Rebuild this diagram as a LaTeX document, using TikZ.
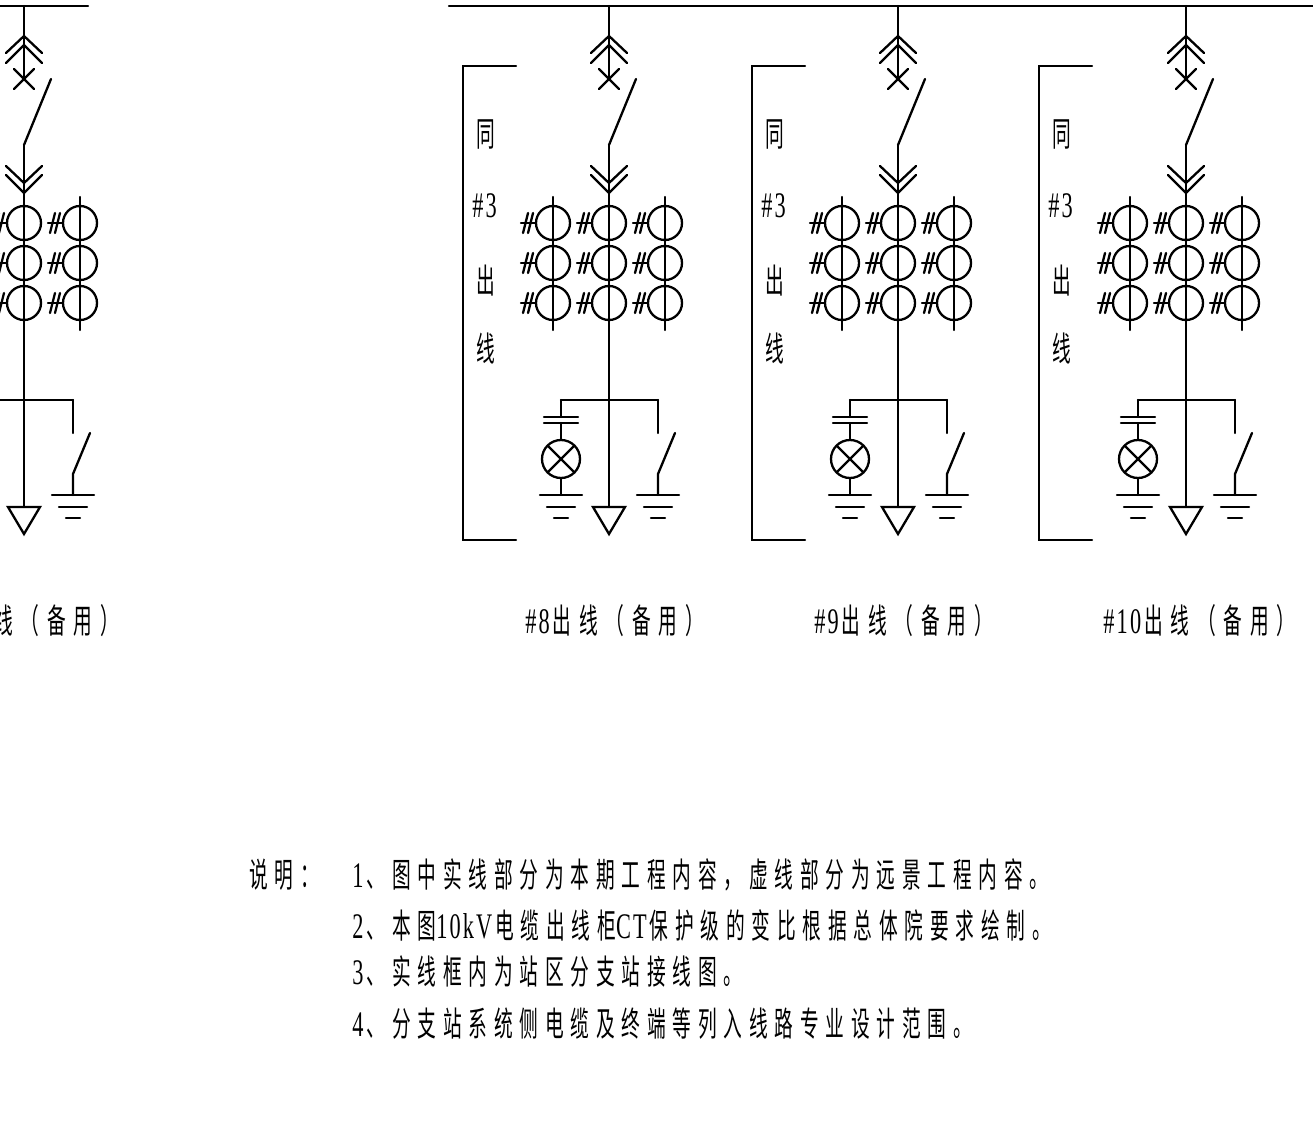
\documentclass[tikz,border=0pt]{standalone}
\usepackage{fontspec}
\newfontfamily\cjk[FakeStretch=0.55,LetterSpace=20]{Noto Sans CJK SC}
\newfontfamily\cjkcap[FakeStretch=0.55,LetterSpace=23]{Noto Sans CJK SC}
\newfontfamily\cjktag[FakeStretch=0.55]{Noto Sans CJK SC}
\newfontfamily\latn[FakeStretch=0.62,LetterSpace=6]{Liberation Serif}
\newcommand{\lat}[1]{{\fontsize{18}{18}\selectfont\latn #1}\kern1.5pt}
\tikzset{
  wire/.style={line width=1.15pt,line cap=round},
  ctcoil/.style={draw,circle,line width=1.15pt,minimum size=17pt,inner sep=0pt,outer sep=0pt},
  lampbox/.style={draw,circle,line width=1.15pt,minimum size=19pt,inner sep=0pt,outer sep=0pt},
  tag/.style={inner sep=0pt,font=\fontsize{17}{17}\selectfont\cjktag},
  caption/.style={inner sep=0pt,anchor=west,font=\fontsize{17}{17}\selectfont\cjkcap},
  notetext/.style={inner sep=0pt,anchor=west,font=\fontsize{17}{17}\selectfont\cjk},
}
\begin{document}
\begin{tikzpicture}[x=0.5pt,y=-0.5pt]
  \useasboundingbox (0,0) rectangle (1313,1124);
  % bus bars
  \draw[wire] (0,6)--(88,6);
  \draw[wire] (449,6)--(1313,6);
  % the four feeders
  \foreach \bx in {24,609,898,1186} {
   \begin{scope}[xshift=\bx*0.5pt]
    \coordinate (tap) at (0,6);
    \coordinate (breaker) at (0,79);
    \coordinate (bladeup) at (0,145);
    \coordinate (foot) at (0,507);
    \coordinate (tee) at (0,400);
    \coordinate (teeL) at (-48,400);
    \coordinate (teeR) at (49,400);
    \draw[wire] (tap)--(breaker);
    \draw[wire] (bladeup)--(foot);
    \draw[wire] (bladeup)--(27,79);
    % plug-in contacts
    \draw[wire] (-18,53)--(0,36)--(18,53);
    \draw[wire] (-18,63)--(0,45)--(18,63);
    \draw[wire] (-10,69)--(10,89);
    \draw[wire] (-10,89)--(10,69);
    \draw[wire] (-18,166)--(0,183)--(18,166);
    \draw[wire] (-18,175)--(0,193)--(18,175);
    % current transformers
    \draw[wire] (-56,197)--(-56,330);
    \draw[wire] (56,197)--(56,330);
    \foreach \cx in {-56,0,56} {
     \foreach \cy in {223,263,303} {
      \node[ctcoil] (ct) at (\cx,\cy) {};
      \draw[wire] (ct.west)--++(-15,0);
      \draw[wire] (ct.west)++(-13,10)--++(5,-20);
      \draw[wire] (ct.west)++(-8,10)--++(5,-20);
     }
    }
    \draw[wire] (teeL)--(teeR);
    % lamp branch
    \node[lampbox] (lamp) at (-48,459) {};
    \draw[wire] (teeL)--(-48,417);
    \draw[wire] (-65,417)--(-31,417);
    \draw[wire] (-65,423)--(-31,423);
    \draw[wire] (-48,423)--(lamp.north);
    \draw[wire] (lamp.45)--(lamp.225);
    \draw[wire] (lamp.135)--(lamp.315);
    \draw[wire] (lamp.south)--(-48,495);
    % earth switch branch
    \draw[wire] (teeR)--(49,433);
    \draw[wire] (49,495)--(49,474)--(66,433);
    \foreach \ex in {-48,49} {
     \draw[wire] (\ex-21,495)--(\ex+21,495);
     \draw[wire] (\ex-14,507)--(\ex+14,507);
     \draw[wire] (\ex-7,518)--(\ex+7,518);
    }
    % cable end
    \draw[wire] (foot)++(-16,0)--++(32,0)--(0,534)--cycle;
   \end{scope}
  }
  % side brackets
  \foreach \fx/\br in {609/-146,898/-146,1186/-147} {
   \begin{scope}[xshift=\fx*0.5pt+\br*0.5pt]
    \draw[wire] (53,66)--(0,66)--(0,540)--(53,540);
    \node[tag] (same) at (23,134) {同};
    \node[tag] (num) at (23,206) {\lat{\#3}};
    \node[tag] (out) at (23,281) {出};
    \node[tag] (line) at (23,348) {线};
   \end{scope}
  }
  % feeder names
  \node[caption] (name7) at (-6,621) {线（备用）};
  \node[caption] (name8) at (525,621) {\lat{\#8}出线（备用）};
  \node[caption] (name9) at (814,621) {\lat{\#9}出线（备用）};
  \node[caption] (name10) at (1103,621) {\lat{\#10}出线（备用）};
  % notes
  \node[notetext] (notehead) at (249,875) {说明：};
  \node[notetext] (note1) at (352,875) {\lat{1}、图中实线部分为本期工程内容，虚线部分为远景工程内容。};
  \node[notetext] (note2) at (352,925) {\lat{2}、本图\lat{10kV}电缆出线柜\lat{CT}保护级的变比根据总体院要求绘制。};
  \node[notetext] (note3) at (352,972) {\lat{3}、实线框内为站区分支站接线图。};
  \node[notetext] (note4) at (352,1024) {\lat{4}、分支站系统侧电缆及终端等列入线路专业设计范围。};
\end{tikzpicture}
\end{document}
